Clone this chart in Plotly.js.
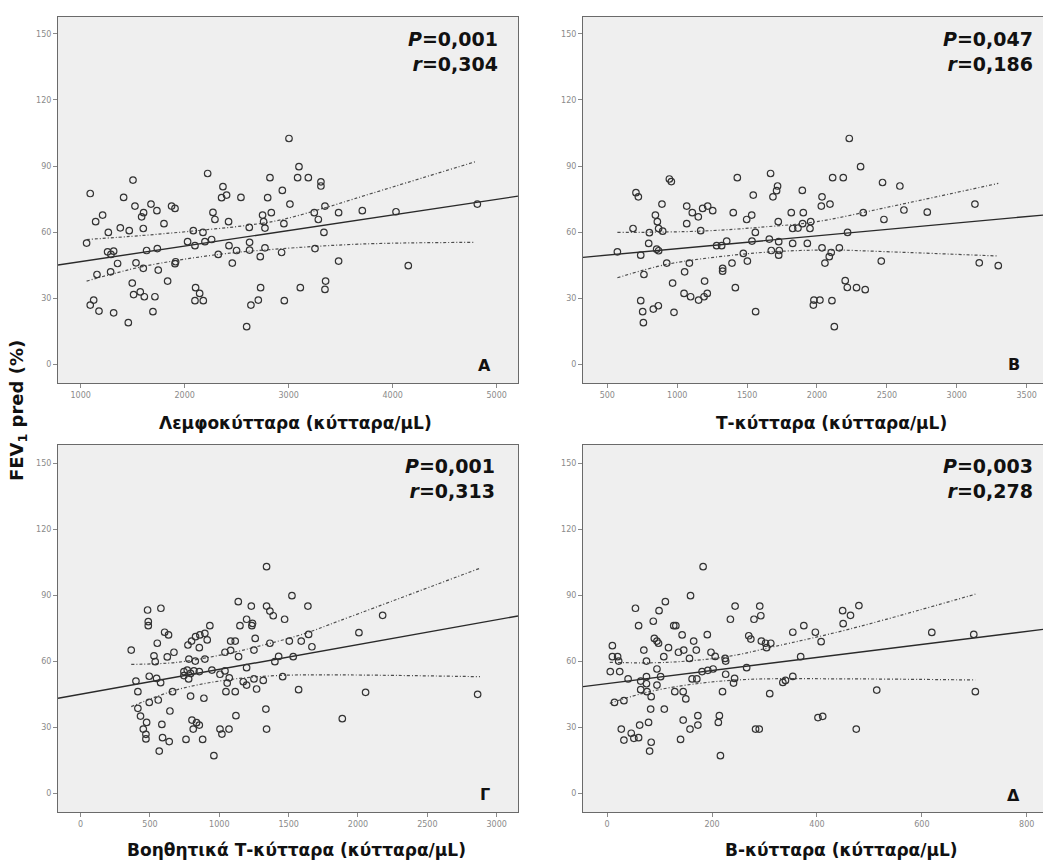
<!DOCTYPE html>
<html>
<head>
<meta charset="utf-8">
<script src="https://cdn.plot.ly/plotly-3.0.1.min.js"></script>
<style>html,body{margin:0;padding:0;background:#fff;}</style>
</head>
<body>
<div id="chart" style="width:1043px;height:863px;"></div>
<script>
// ---------- DATA ----------
// Panel A: lymphocytes (cells/μL) vs FEV1 pred (%)
const lymphPts = [[3003,102.5],[3099,89.7],[3086,84.7],[3189,84.7],[3310,82.8],[3310,80.9],[2820,84.7],[2939,78.9],[2798,75.6],[3012,72.7],[2221,86.6],[2368,80.6],[2403,76.8],[2355,75.6],[2541,75.7],[1503,83.6],[1092,77.5],[1413,75.7],[1522,71.8],[1676,72.7],[1733,69.7],[1605,68.8],[1586,66.9],[1874,71.8],[1907,70.7],[1211,67.7],[1144,64.7],[1801,63.8],[1381,61.9],[1467,60.6],[1602,61.6],[1266,59.8],[1057,55.0],[2272,68.9],[2291,65.7],[2422,64.7],[2749,67.7],[2833,68.8],[2759,64.7],[2772,61.8],[2954,63.8],[2621,62.1],[3246,68.8],[3285,65.7],[3349,71.8],[3480,68.8],[3339,59.8],[2083,60.6],[2176,59.8],[2028,55.6],[2099,53.8],[2195,55.6],[2259,56.6],[2624,55.3],[2426,53.8],[2499,51.6],[2624,51.8],[2772,52.8],[2932,50.7],[2727,48.8],[2458,45.9],[2323,49.8],[3253,52.5],[3480,46.8],[1259,51.0],[1317,51.3],[1291,49.8],[1634,51.6],[1737,52.5],[1355,45.7],[1532,46.0],[1602,43.5],[1746,42.7],[1913,46.5],[1907,45.6],[1157,40.7],[1288,41.9],[1496,36.8],[1836,37.7],[1509,31.6],[1573,32.8],[1612,30.6],[1714,30.6],[1125,29.1],[1092,26.8],[1176,24.1],[1317,23.3],[1695,23.8],[1458,18.8],[2105,34.7],[2144,32.1],[2099,28.8],[2179,28.8],[2730,34.7],[2708,29.1],[2637,26.8],[3112,34.7],[2958,28.8],[3355,37.7],[3349,33.9],[2596,17.0],[3708,69.7],[4032,69.2],[4150,44.7],[4814,72.7]];
const lymphFitX = [782, 5205];
const lymphFitY = [45.0, 76.3];
const lymphUpper = [[1057,56.6],[1586,58.4],[2067,60.4],[2612,63.1],[2932,65.6],[3349,71.0],[3733,76.6],[4791,91.9]];
const lymphLower = [[1057,37.7],[1586,44.2],[2323,49.8],[2868,52.2],[3733,54.6],[4791,55.3]];

// Panel B: T cells
const tPts = [[2231,102.5],[2312,89.7],[2112,84.7],[2188,84.7],[2469,82.5],[1895,78.9],[2036,76.0],[2031,71.8],[2093,72.7],[1668,86.6],[1718,80.9],[1711,78.8],[1685,76.0],[1430,84.7],[1544,76.8],[944,84.1],[958,82.9],[705,77.9],[722,76.0],[891,72.7],[1068,71.8],[1108,68.8],[1151,66.9],[1218,71.8],[1254,69.7],[1182,70.7],[844,67.7],[858,64.7],[867,61.6],[896,60.4],[801,59.7],[684,61.6],[1068,63.8],[1168,60.6],[1401,68.8],[1497,65.7],[1533,67.7],[1559,59.8],[1723,64.7],[1816,68.8],[1902,68.8],[1826,61.6],[1864,61.8],[1897,63.8],[1955,64.7],[1950,61.6],[2331,68.8],[2479,65.7],[2219,59.8],[572,51.0],[739,49.5],[796,54.8],[853,52.2],[867,51.5],[1354,55.9],[1282,53.8],[1318,53.8],[1535,55.9],[1659,56.8],[1726,55.6],[1826,54.8],[1931,54.8],[1673,51.6],[1730,51.6],[1726,49.5],[2036,52.8],[2102,50.7],[2160,52.8],[2088,48.8],[2057,45.9],[2460,46.8],[1473,50.3],[1502,46.8],[1392,45.9],[1325,43.5],[1325,42.2],[925,45.9],[1087,45.9],[1053,41.9],[762,40.7],[967,36.8],[1196,37.7],[1416,34.7],[1049,32.1],[1096,30.6],[1153,29.1],[1192,30.6],[1215,32.1],[739,28.8],[753,23.8],[829,25.0],[865,26.5],[977,23.5],[758,18.8],[1561,23.8],[2202,37.9],[2217,34.8],[2283,34.7],[2345,33.8],[1978,29.1],[2021,29.1],[1974,26.8],[2107,28.8],[2124,17.0],[3130,72.7],[3161,46.0],[3297,44.7],[2789,69.0],[2622,70.0],[2593,80.9]];
const tFitX = [326, 3617];
const tFitY = [48.5, 67.7];
const tUpper = [[572,59.8],[1163,60.4],[1640,62.4],[1997,64.7],[2522,71.5],[3297,82.1]];
const tLower = [[572,39.2],[925,45.3],[1401,49.5],[1759,51.3],[2117,51.8],[2522,51.0],[3297,49.1]];

// Panel Γ: helper T cells
const thPts = [[1341,103.0],[1524,89.8],[1639,85.1],[1137,87.1],[1231,85.1],[1341,85.1],[1365,82.8],[1389,80.7],[1471,79.1],[483,83.3],[579,84.1],[488,78.0],[488,76.2],[1197,79.1],[1240,77.2],[1235,76.2],[1149,76.2],[932,76.2],[606,73.2],[634,72.0],[553,68.2],[365,65.1],[774,67.4],[800,69.2],[829,71.2],[860,72.0],[896,72.7],[913,69.7],[856,66.2],[1082,69.2],[1115,69.2],[1259,70.4],[1365,68.2],[1505,69.2],[1591,69.2],[1644,72.2],[1668,66.6],[673,64.1],[529,62.5],[538,59.8],[625,62.0],[781,61.0],[827,60.1],[896,61.0],[1041,64.1],[1082,65.0],[1139,62.1],[1250,65.1],[1428,62.2],[1401,59.8],[1533,62.1],[1197,57.1],[745,55.3],[769,56.0],[793,54.5],[745,53.5],[817,55.6],[856,55.3],[947,56.0],[1005,54.1],[1041,55.6],[1072,52.5],[779,52.0],[495,53.2],[548,52.2],[577,50.3],[399,51.0],[413,46.2],[663,46.2],[793,44.2],[889,43.2],[1048,46.2],[1115,46.2],[1057,50.1],[1173,50.7],[1197,49.2],[1250,52.0],[1317,51.3],[1457,53.0],[1269,47.4],[1572,47.1],[495,41.3],[560,42.4],[413,38.6],[432,35.1],[644,37.4],[476,32.2],[452,29.2],[471,26.8],[471,24.7],[586,31.3],[591,25.3],[639,23.5],[567,19.2],[760,24.5],[880,24.5],[803,33.3],[836,32.1],[856,31.0],[812,29.2],[1005,29.2],[1070,29.2],[1019,26.9],[961,17.1],[1120,35.3],[1336,38.3],[1341,29.2],[2178,80.9],[2007,73.0],[2055,45.9],[1887,33.9],[2863,45.0]];
const thFitX = [-163, 3154];
const thFitY = [43.2, 80.6];
const thUpper = [[365,58.6],[692,59.5],[1053,63.4],[1293,67.0],[1606,72.4],[1870,78.5],[2880,102.3]];
const thLower = [[365,39.4],[692,47.0],[1053,51.5],[1413,53.5],[1870,53.8],[2880,53.0]];

// Panel Δ: B cells
const bPts = [[183,103.0],[159,89.8],[111,87.1],[99,83.0],[54,84.1],[60,76.2],[88,78.2],[127,76.2],[131,76.2],[143,72.0],[191,72.1],[244,85.1],[291,85.1],[235,79.1],[280,79.1],[293,80.7],[90,70.4],[95,69.2],[98,68.2],[117,66.2],[136,64.1],[146,65.1],[165,69.2],[170,65.1],[70,65.1],[108,62.1],[157,61.3],[198,64.1],[206,62.2],[226,60.1],[225,61.3],[270,71.6],[274,70.1],[294,69.2],[302,68.2],[304,66.2],[312,68.2],[354,73.2],[375,76.2],[397,73.2],[408,68.9],[449,83.0],[450,77.1],[10,67.1],[10,62.1],[20,62.1],[22,60.1],[75,60.1],[6,55.3],[24,55.3],[40,52.0],[64,51.0],[75,53.0],[95,56.5],[102,53.0],[75,49.8],[95,49.2],[64,47.1],[76,46.2],[84,43.9],[129,46.2],[145,46.2],[150,42.9],[162,52.0],[171,52.0],[181,55.3],[192,55.9],[202,56.5],[226,54.1],[243,52.2],[241,50.1],[266,57.1],[220,46.2],[310,45.3],[335,50.4],[340,51.3],[354,53.1],[369,62.1],[14,41.3],[32,42.1],[83,38.3],[109,38.3],[79,32.2],[62,31.0],[27,29.2],[46,27.3],[51,25.0],[60,25.3],[32,24.2],[84,23.2],[81,19.2],[140,24.5],[145,33.3],[173,35.3],[173,31.0],[158,29.2],[214,35.3],[212,32.2],[283,29.2],[290,29.2],[216,17.1],[402,34.4],[411,35.0],[480,85.3],[464,80.9],[514,46.9],[475,29.2],[619,73.1],[699,72.2],[702,46.2]];
const bFitX = [-46, 831];
const bFitY = [48.5, 74.5];
const bUpper = [[5,59.5],[113,59.5],[228,62.1],[317,66.6],[463,74.7],[702,90.5]];
const bLower = [[5,40.9],[81,46.2],[177,50.0],[272,51.8],[463,52.0],[702,51.5]];

const statsText = ['<b><i>P</i>=0,001<br><i>r</i>=0,304</b>', '<b><i>P</i>=0,047<br><i>r</i>=0,186</b>', '<b><i>P</i>=0,001<br><i>r</i>=0,313</b>', '<b><i>P</i>=0,003<br><i>r</i>=0,278</b>'];
const panelLetters = ['A', 'B', 'Γ', 'Δ'];
const xTitles = ['Λεμφοκύτταρα (κύτταρα/μL)', 'Τ-κύτταρα (κύτταρα/μL)', 'Βοηθητικά Τ-κύτταρα (κύτταρα/μL)', 'Β-κύτταρα (κύτταρα/μL)'];
const yTitle = 'FEV<sub>1</sub> pred (%)';

// ---------- BUILD ----------
const W = 1043, H = 863;
const px = v => v / W;
const py = v => 1 - v / H;
const FONT = 'DejaVu Sans, Verdana, sans-serif';

const panels = [
  {pts: lymphPts, fx: lymphFitX, fy: lymphFitY, up: lymphUpper, lo: lymphLower, xa: 'x', ya: 'y'},
  {pts: tPts, fx: tFitX, fy: tFitY, up: tUpper, lo: tLower, xa: 'x2', ya: 'y2'},
  {pts: thPts, fx: thFitX, fy: thFitY, up: thUpper, lo: thLower, xa: 'x3', ya: 'y3'},
  {pts: bPts, fx: bFitX, fy: bFitY, up: bUpper, lo: bLower, xa: 'x4', ya: 'y4'}
];

const traces = [];
panels.forEach(p => {
  const band = arr => ({
    type: 'scatter', mode: 'lines', xaxis: p.xa, yaxis: p.ya,
    x: arr.map(d => d[0]), y: arr.map(d => d[1]),
    line: {color: '#4d4d4d', width: 1.2, dash: '3px,2px,1px,2px', shape: 'spline'},
    hoverinfo: 'skip'
  });
  traces.push(band(p.up));
  traces.push(band(p.lo));
  traces.push({
    type: 'scatter', mode: 'lines', xaxis: p.xa, yaxis: p.ya,
    x: p.fx, y: p.fy, line: {color: '#2a2a2a', width: 1.4}, hoverinfo: 'skip'
  });
  traces.push({
    type: 'scatter', mode: 'markers', xaxis: p.xa, yaxis: p.ya,
    x: p.pts.map(d => d[0]), y: p.pts.map(d => d[1]),
    marker: {symbol: 'circle-open', size: 6.5, color: '#333', line: {width: 1.2}}
  });
});

const axBase = {
  showline: true, mirror: true, linecolor: '#6a6a6a', linewidth: 1,
  ticks: 'outside', ticklen: 4, tickwidth: 1, tickcolor: '#8a8a8a',
  tickfont: {family: FONT, size: 8, color: '#8a8a8a'},
  showgrid: false, zeroline: false, tickformat: 'd', fixedrange: true
};
const yBase = Object.assign({}, axBase, {tick0: 0, dtick: 30});

const layout = {
  width: W, height: H, margin: {l: 0, r: 0, t: 0, b: 0},
  paper_bgcolor: '#ffffff', plot_bgcolor: '#efefef', showlegend: false,
  font: {family: FONT},
  xaxis: Object.assign({}, axBase, {domain: [px(58), px(518)], range: [782, 5205], tick0: 0, dtick: 1000, anchor: 'y'}),
  yaxis: Object.assign({}, yBase, {domain: [py(383), py(17)], range: [-8.6, 157.7], anchor: 'x'}),
  xaxis2: Object.assign({}, axBase, {domain: [px(583), 1], range: [326, 3617], tick0: 0, dtick: 500, anchor: 'y2'}),
  yaxis2: Object.assign({}, yBase, {domain: [py(383), py(17)], range: [-8.6, 157.7], anchor: 'x2'}),
  xaxis3: Object.assign({}, axBase, {domain: [px(58), px(518)], range: [-163, 3154], tick0: 0, dtick: 500, anchor: 'y3'}),
  yaxis3: Object.assign({}, yBase, {domain: [py(812), py(445)], range: [-8.5, 158.3], anchor: 'x3'}),
  xaxis4: Object.assign({}, axBase, {domain: [px(583), 1], range: [-46, 831], tick0: 0, dtick: 200, anchor: 'y4'}),
  yaxis4: Object.assign({}, yBase, {domain: [py(812), py(445)], range: [-8.5, 158.3], anchor: 'x4'}),
  annotations: []
};

const statPos = [[500, 26], [1035, 26], [497, 453], [1035, 453]];
const letterPos = [[484, 365], [1014, 364], [485, 794], [1013, 795]];
const titlePos = [[295, 423], [831, 423], [296, 850], [841, 850]];
for (let i = 0; i < 4; i++) {
  layout.annotations.push({
    xref: 'paper', yref: 'paper', x: px(statPos[i][0]), y: py(statPos[i][1]),
    xanchor: 'right', yanchor: 'top', align: 'right', showarrow: false,
    text: statsText[i], font: {family: FONT, size: 19, color: '#111'}
  });
  layout.annotations.push({
    xref: 'paper', yref: 'paper', x: px(letterPos[i][0]), y: py(letterPos[i][1]),
    xanchor: 'center', yanchor: 'middle', showarrow: false,
    text: '<b>' + panelLetters[i] + '</b>', font: {family: FONT, size: 16, color: '#111'}
  });
  layout.annotations.push({
    xref: 'paper', yref: 'paper', x: px(titlePos[i][0]), y: py(titlePos[i][1]),
    xanchor: 'center', yanchor: 'middle', showarrow: false,
    text: '<b>' + xTitles[i] + '</b>', font: {family: FONT, size: 17, color: '#111'}
  });
}
layout.annotations.push({
  xref: 'paper', yref: 'paper', x: px(18), y: py(411), textangle: -90,
  xanchor: 'center', yanchor: 'middle', showarrow: false,
  text: '<b>' + yTitle + '</b>', font: {family: FONT, size: 18, color: '#111'}
});

Plotly.newPlot('chart', traces, layout, {displayModeBar: false, staticPlot: true});
</script>
</body>
</html>
